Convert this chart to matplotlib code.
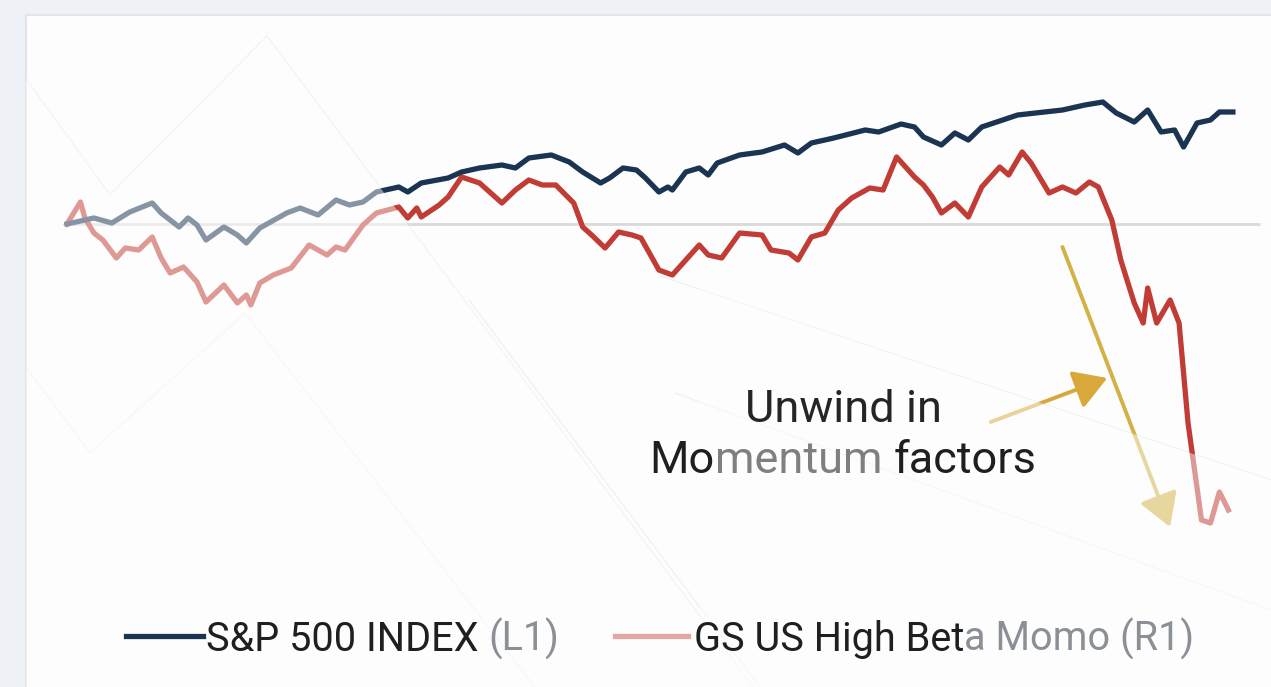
import matplotlib
matplotlib.use("Agg")
import matplotlib.pyplot as plt
from matplotlib.patches import Polygon
from matplotlib.lines import Line2D

# trading days since start, rebased index levels (start = 100)
spx_days = [0, 4, 6, 10, 14, 19, 21, 25, 27, 29, 31, 35, 38, 40, 43, 49, 52, 56, 60, 63,
            66, 69, 71, 74, 76, 79, 85, 88, 92, 97, 100, 103, 108, 112, 115, 119, 121, 124,
            127, 129, 132, 134, 135, 138, 141, 143, 145, 150, 155, 160, 163, 166, 171, 178,
            181, 186, 189, 191, 195, 198, 201, 204, 212, 216, 222, 227, 231, 234, 238, 241,
            244, 247, 249, 252, 255, 257, 260]
spx_vals = [100.0, 100.4, 100.6, 100.1, 101.2, 102.1, 101.1, 99.7, 100.6, 99.9, 98.4, 99.7,
            98.9, 98.1, 99.6, 101.1, 101.6, 100.9, 102.4, 101.9, 102.2, 103.2, 103.4, 103.7,
            103.2, 104.1, 104.6, 105.2, 105.6, 105.9, 105.6, 106.6, 106.9, 106.2, 105.2, 104.1,
            104.6, 105.6, 105.4, 104.6, 103.2, 103.7, 103.4, 105.2, 105.6, 104.9, 106.1, 106.9,
            107.2, 107.9, 107.1, 108.1, 108.6, 109.4, 109.2, 110.0, 109.7, 108.7, 107.9, 109.1,
            108.4, 109.7, 110.9, 111.1, 111.4, 111.9, 112.2, 111.1, 110.2, 111.4, 109.2, 109.4,
            107.7, 110.1, 110.4, 111.2, 111.2]

momo_days = [0, 3, 4, 6, 8, 11, 13, 16, 19, 21, 23, 26, 29, 31, 35, 38, 40, 41, 43, 46, 50,
             54, 58, 60, 62, 66, 69, 74, 76, 78, 79, 83, 85, 88, 90, 92, 97, 100, 103, 106,
             109, 113, 115, 117, 120, 123, 126, 128, 132, 135, 138, 141, 143, 146, 150, 155,
             157, 161, 163, 166, 169, 172, 175, 179, 182, 185, 189, 191, 193, 195, 198, 201,
             204, 208, 210, 213, 215, 219, 222, 225, 228, 230, 233, 235, 238, 240, 241, 243,
             246, 248, 250, 253, 255, 257, 259]
momo_vals = [100.0, 102.2, 100.6, 99.1, 98.4, 96.6, 97.6, 97.4, 98.7, 96.6, 95.1, 95.7, 94.2,
             92.2, 93.9, 92.1, 92.9, 91.9, 94.1, 94.9, 95.6, 97.9, 96.9, 97.7, 97.4, 99.9,
             101.1, 101.7, 100.6, 101.6, 100.7, 101.9, 102.7, 104.7, 104.4, 104.1, 102.1, 103.4,
             104.4, 103.9, 103.9, 102.1, 99.7, 98.9, 97.6, 99.2, 98.9, 98.6, 95.4, 94.9, 96.4,
             97.9, 96.9, 96.6, 99.1, 98.9, 97.4, 97.1, 96.4, 98.7, 99.1, 101.4, 102.6, 103.6,
             103.4, 106.7, 104.7, 103.9, 102.7, 101.1, 102.1, 100.7, 103.7, 105.7, 104.9, 107.2,
             106.1, 103.1, 103.7, 103.1, 104.2, 103.7, 100.4, 96.4, 92.1, 90.1, 93.6, 90.1,
             92.4, 90.1, 80.1, 70.4, 70.1, 73.2, 71.4]

BASE = 100.0
spx_label = "S&P 500 INDEX"
momo_label = "GS US High Beta Momo"
note_lines = ["Unwind in", "Momentum factors"]

NAVY = "#1b3452"
RED = "#c23c36"
GOLD = "#d8a93a"
DARK = "#1f1f1f"
GREY = "#8b9096"
FONT = "Roboto"

W, H = 1271, 687
fig = plt.figure(figsize=(W / 100, H / 100), dpi=100, facecolor="#eef1f5")
renderer = fig.canvas.get_renderer()


def fx(px):
    return px / W


def fy(py):
    return 1 - py / H


ax = fig.add_axes([fx(26), 0, 1 - fx(26), fy(15)])
ax.set_facecolor("#fdfdfd")
ax.set_xlim(-9.14, 268.5)
ax.set_ylim(53.7, 120.9)
ax.set_xticks([])
ax.set_yticks([])
for side in ["right", "bottom"]:
    ax.spines[side].set_visible(False)
for side in ["left", "top"]:
    ax.spines[side].set_color("#e1e4e9")
    ax.spines[side].set_linewidth(1.5)

ax.hlines(BASE, 1, 266, color="#dadada", lw=2, zorder=1)
ax.plot(spx_days, spx_vals, color=NAVY, lw=3.8, solid_joinstyle="round", zorder=3)
ax.plot(momo_days, momo_vals, color=RED, lw=3.8, solid_joinstyle="round", zorder=2)

arrow = dict(arrowstyle="-|>,head_length=0.5,head_width=0.3", color=GOLD, lw=2.8,
             mutation_scale=40, shrinkA=0, shrinkB=0)
ax.annotate("", xy=(232, 84.6), xytext=(206, 80.2), arrowprops=arrow, zorder=4)
ax.annotate("", xy=(246, 69.7), xytext=(222, 97.7),
            arrowprops=dict(arrow, color="#d2b245"), zorder=4)

# translucent white bands over the panel
bands = [
    [(0, 43), (110, 195), (267, 36), (753, 687), (0, 687)],
    [(700, 289), (1271, 480), (1271, 687), (700, 687)],
]
for pts in bands:
    ax.add_patch(Polygon([(fx(x), fy(y)) for x, y in pts], closed=True,
                         transform=fig.transFigure, facecolor="white", alpha=0.48,
                         edgecolor="none", zorder=5))

edges = [
    [(0, 43), (110, 195), (267, 36), (753, 687)],
    [(0, 333), (90, 453), (245, 313), (535, 687)],
    [(469, 300), (760, 687)],
    [(660, 276), (1271, 480)],
    [(675, 393), (1271, 610)],
]
for pts in edges:
    xs = [fx(x) for x, _ in pts]
    ys = [fy(y) for _, y in pts]
    ax.add_line(Line2D(xs, ys, transform=fig.transFigure, color="#eceff3", lw=0.8, zorder=0.5))


def text_width(s, size):
    t = fig.text(0, 0, s, fontsize=size, family=FONT)
    w = t.get_window_extent(renderer).width
    t.remove()
    return w


def draw_runs(x, y, runs, size, ha="left"):
    # runs: (text, colour, space before)
    sp = text_width("a a", size) - text_width("aa", size)
    widths = [text_width(s, size) for s, _, _ in runs]
    total = sum(widths) + sp * sum(1 for r in runs if r[2])
    cur = x - total / 2 if ha == "center" else x
    for (s, c, gap), w in zip(runs, widths):
        if gap:
            cur += sp
        fig.text(fx(cur), fy(y), s, fontsize=size, family=FONT, color=c,
                 va="baseline", ha="left", zorder=6)
        cur += w


# annotation
draw_runs(843, 422, [(note_lines[0], "#252525", False)], 32.5, "center")
draw_runs(843, 473, [("Mo", DARK, False), ("mentum", "#7f7f7f", False),
                     ("factors", DARK, True)], 32.5, "center")

# legend
fig.add_artist(Line2D([fx(126), fx(203)], [fy(636)] * 2, transform=fig.transFigure,
                      color=NAVY, lw=3.8))
fig.add_artist(Line2D([fx(615), fx(688)], [fy(636)] * 2, transform=fig.transFigure,
                      color="#e3a8a6", lw=3.8))
draw_runs(206, 651, [(spx_label, DARK, False), ("(L1)", GREY, True)], 28.5)
draw_runs(694, 651, [(momo_label[:-6], DARK, False), (momo_label[-6:] + " (R1)", GREY, False)], 28.5)

fig.savefig("out.png", dpi=100, facecolor=fig.get_facecolor())
